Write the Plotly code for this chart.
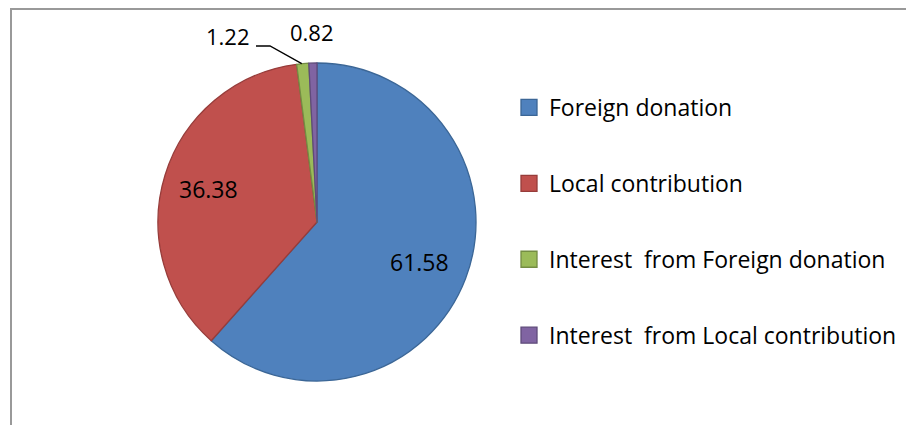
import math
import plotly.graph_objects as go

categories = ["Foreign donation", "Local contribution",
              "Interest  from Foreign donation", "Interest  from Local contribution"]
values = [61.58, 36.38, 1.22, 0.82]
colors = ["#4F81BD", "#C0504D", "#9BBB59", "#8064A2"]
border_colors = ["#3B6696", "#973C3A", "#748D43", "#5F4B7A"]

# The page body has an 8px margin; the figure is laid out in its own pixel frame.
OFF = 8
W, H = 898, 417
cx, cy, R = 317 - OFF, 222 - OFF, 159  # pie geometry in figure pixels


def paper(x, y):
    return x / W, 1 - y / H


dom_x = [(cx - R) / W, (cx + R) / W]
dom_y = [1 - (cy + R) / H, 1 - (cy - R) / H]

fig = go.Figure()
fig.add_trace(go.Pie(
    labels=categories,
    values=values,
    sort=False,
    direction="clockwise",
    rotation=0,
    marker=dict(colors=colors, line=dict(color=border_colors, width=1.3)),
    textinfo="none",
    hoverinfo="skip",
    showlegend=False,
    domain=dict(x=dom_x, y=dom_y),
))

# legend entries (one per slice, with gaps between them)
for cat, col, bc in zip(categories, colors, border_colors):
    fig.add_trace(go.Scatter(
        x=[None], y=[None], mode="markers",
        name=cat.replace("  ", "\u00a0 "),
        legendgroup=cat,
        marker=dict(symbol="square", size=16, color=col, line=dict(color=bc, width=1.3)),
        hoverinfo="skip",
    ))

# slice mid angles (clockwise from 12 o'clock)
total = sum(values)
cum = 0
mids = []
for v in values:
    mids.append((cum + v / 2) / total * 2 * math.pi)
    cum += v

lab_font = dict(family="Open Sans", size=23, color="black")

# labels inside the two large slices
for i in (0, 1):
    r = 0.7 * R
    x = cx + r * math.sin(mids[i]) - 2
    y = cy - r * math.cos(mids[i])
    px, py = paper(x, y)
    fig.add_annotation(x=px, y=py, xref="paper", yref="paper",
                       xanchor="center", yanchor="middle",
                       text=f"{values[i]:.2f}", showarrow=False, font=lab_font)

# small slice labels, the first one with a leader line
a = mids[2]
ex, ey = cx + R * math.sin(a) - 1, cy - R * math.cos(a)
p = [paper(256 - OFF, 46 - OFF), paper(270 - OFF, 46 - OFF), paper(ex, ey)]
fig.add_shape(type="path", xref="paper", yref="paper",
              path=f"M {p[0][0]},{p[0][1]} L {p[1][0]},{p[1][1]} L {p[2][0]},{p[2][1]}",
              line=dict(color="black", width=1.3))
small_font = dict(family="Open Sans", size=22, color="black")
for val, (lx, ly) in ((values[2], (228, 36)), (values[3], (311.5, 32))):
    px, py = paper(lx - OFF, ly - OFF)
    fig.add_annotation(x=px, y=py, xref="paper", yref="paper",
                       xanchor="center", yanchor="middle",
                       text=f"{val:.2f}", showarrow=False, font=small_font)

# chart frame
fig.add_shape(type="rect", xref="paper", yref="paper",
              x0=3 / W, x1=1.05, y0=-0.05, y1=1 - 1 / H,
              line=dict(color="#999999", width=2), layer="below")

fig.update_layout(
    width=W, height=H,
    margin=dict(l=0, r=0, t=0, b=0),
    paper_bgcolor="white",
    plot_bgcolor="white",
    showlegend=True,
    xaxis=dict(visible=False),
    yaxis=dict(visible=False),
    legend=dict(x=(509 - OFF) / W, y=1 - (86 - OFF) / H, xanchor="left", yanchor="top",
                font=dict(family="Open Sans", size=23, color="black"),
                tracegroupgap=43, bgcolor="rgba(0,0,0,0)", itemsizing="trace"),
)

fig.write_html("out.html")
